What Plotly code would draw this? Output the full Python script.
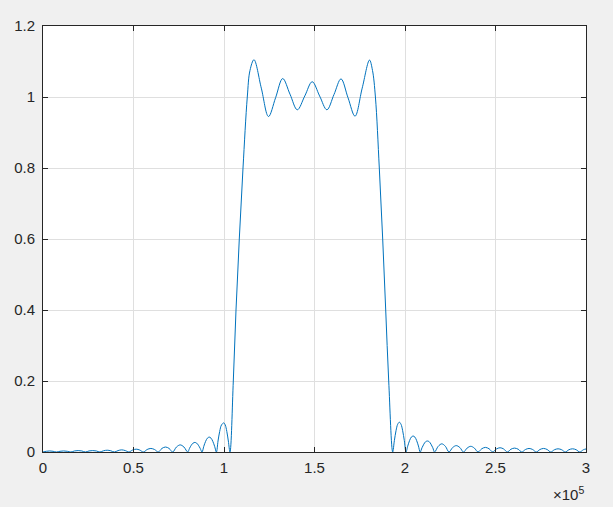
import plotly.graph_objects as go

# Frequency (kHz) and magnitude
freq_khz = [
    0.00, 1.85, 3.70, 5.55, 7.40,
    9.40, 11.41, 13.41, 15.41,
    17.42, 19.42, 21.43, 23.43,
    25.43, 27.44, 29.44, 31.44,
    33.44, 35.45, 37.45, 39.45,
    41.45, 43.46, 45.46, 47.46,
    49.46, 51.47, 53.47, 55.47,
    57.53, 59.59, 61.64, 63.70,
    65.69, 67.68, 69.67, 71.66,
    73.73, 75.80, 77.87, 79.94,
    80.93, 81.92, 82.91, 83.90, 84.88, 85.87, 86.86, 87.85,
    88.84, 89.84, 90.83, 91.83, 92.82, 93.81, 94.81, 95.80,
    96.70, 97.62, 98.60, 99.90, 100.70, 101.55, 102.40, 103.31,
    105.14, 106.63, 108.45, 110.50, 112.87, 114.36, 116.57,
    120.61, 124.59, 128.51, 132.43, 136.46, 140.50, 144.64,
    148.73, 152.82, 156.85, 160.77, 164.64, 168.51, 172.38,
    176.35, 180.39, 182.04, 183.65, 185.80, 187.68, 189.34, 191.00, 193.20,
    194.12, 195.04, 195.95, 196.88, 197.80, 198.71, 199.63, 200.55,
    201.53, 202.51, 203.49, 204.48, 205.46, 206.44, 207.42, 208.40,
    209.39, 210.39, 211.38, 212.38, 213.37, 214.36, 215.36, 216.35,
    218.34, 220.33, 222.32, 224.31,
    226.31, 228.32, 230.32, 232.32,
    234.32, 236.33, 238.33, 240.33,
    242.38, 244.42, 246.47, 248.51,
    250.51, 252.52, 254.52, 256.52,
    258.52, 260.53, 262.53, 264.53,
    266.53, 268.54, 270.54, 272.54,
    274.54, 276.55, 278.55, 280.55,
    282.55, 284.56, 286.56, 288.56,
    290.56, 292.57, 294.57, 296.57,
    298.57, 300.00,
]
magnitude = [
    0.000, 0.002, 0.003, 0.002, 0.000,
    0.002, 0.003, 0.002, 0.000,
    0.003, 0.004, 0.003, 0.000,
    0.003, 0.004, 0.003, 0.000,
    0.0035, 0.005, 0.0035, 0.000,
    0.004, 0.006, 0.004, 0.000,
    0.0055, 0.008, 0.0055, 0.000,
    0.007, 0.010, 0.007, 0.000,
    0.010, 0.014, 0.010, 0.000,
    0.014, 0.020, 0.014, 0.000,
    0.010, 0.019, 0.025, 0.027, 0.025, 0.019, 0.010, 0.000,
    0.016, 0.030, 0.039, 0.042, 0.039, 0.030, 0.016, 0.000,
    0.031, 0.058, 0.076, 0.082, 0.076, 0.058, 0.031, 0.000,
    0.200, 0.400, 0.600, 0.800, 1.000, 1.075, 1.105,
    1.025, 0.945, 0.998, 1.052, 1.008, 0.964, 1.003,
    1.043, 1.003, 0.964, 1.007, 1.051, 0.998, 0.946,
    1.025, 1.104, 1.075, 1.000, 0.800, 0.600, 0.400, 0.200, 0.000,
    0.032, 0.060, 0.078, 0.084, 0.078, 0.060, 0.032, 0.000,
    0.017, 0.032, 0.042, 0.045, 0.042, 0.032, 0.017, 0.000,
    0.012, 0.022, 0.029, 0.031, 0.029, 0.022, 0.012, 0.000,
    0.016, 0.023, 0.016, 0.000,
    0.0125, 0.018, 0.0125, 0.000,
    0.011, 0.016, 0.011, 0.000,
    0.009, 0.013, 0.009, 0.000,
    0.0085, 0.012, 0.0085, 0.000,
    0.0078, 0.011, 0.0078, 0.000,
    0.007, 0.010, 0.007, 0.000,
    0.007, 0.010, 0.007, 0.000,
    0.0064, 0.009, 0.0064, 0.000,
    0.0064, 0.009, 0.0064, 0.000,
    0.0064, 0.0085,
]

x_tick_vals = [0, 50000, 100000, 150000, 200000, 250000, 300000]
x_tick_text = ["0", "0.5", "1", "1.5", "2", "2.5", "3"]
y_tick_vals = [0, 0.2, 0.4, 0.6, 0.8, 1.0, 1.2]
y_tick_text = ["0", "0.2", "0.4", "0.6", "0.8", "1", "1.2"]

freq_hz = [f * 1000 for f in freq_khz]

fig = go.Figure()
fig.add_trace(go.Scatter(
    x=freq_hz, y=magnitude, mode="lines",
    line=dict(color="#0072BD", width=1, shape="spline", smoothing=1.0),
    showlegend=False, hoverinfo="skip",
))

axis_font = dict(family="Liberation Sans, Arial, sans-serif", size=15, color="#262626")

fig.update_layout(
    width=613, height=507,
    margin=dict(l=43, r=27, t=26, b=55, autoexpand=False),
    paper_bgcolor="#f0f0f0",
    plot_bgcolor="#ffffff",
    font=axis_font,
    xaxis=dict(
        range=[0, 300000], tickvals=x_tick_vals, ticktext=x_tick_text,
        showgrid=True, gridcolor="#dfdfdf", gridwidth=1,
        zeroline=False, showline=True, linecolor="#262626", linewidth=1,
        mirror="ticks", ticks="inside", ticklen=5, tickcolor="#262626",
        tickfont=axis_font, fixedrange=True, automargin=False,
        ticklabelstandoff=2,
    ),
    yaxis=dict(
        range=[0, 1.2], tickvals=y_tick_vals, ticktext=y_tick_text,
        showgrid=True, gridcolor="#dfdfdf", gridwidth=1,
        zeroline=False, showline=True, linecolor="#262626", linewidth=1,
        mirror="ticks", ticks="inside", ticklen=5, tickcolor="#262626",
        tickfont=axis_font, fixedrange=True, automargin=False,
        ticklabelstandoff=4,
    ),
    annotations=[dict(
        text="\u00d710<sup>5</sup>", xref="paper", yref="paper",
        x=1.0, y=0, xanchor="right", yanchor="top", yshift=-30,
        showarrow=False, font=axis_font,
    )],
)

fig.write_html(
    "out.html",
    config={"displayModeBar": False, "staticPlot": True},
    post_script="document.body.style.margin='0';document.body.style.overflow='hidden';document.body.style.background='#f0f0f0';",
)
